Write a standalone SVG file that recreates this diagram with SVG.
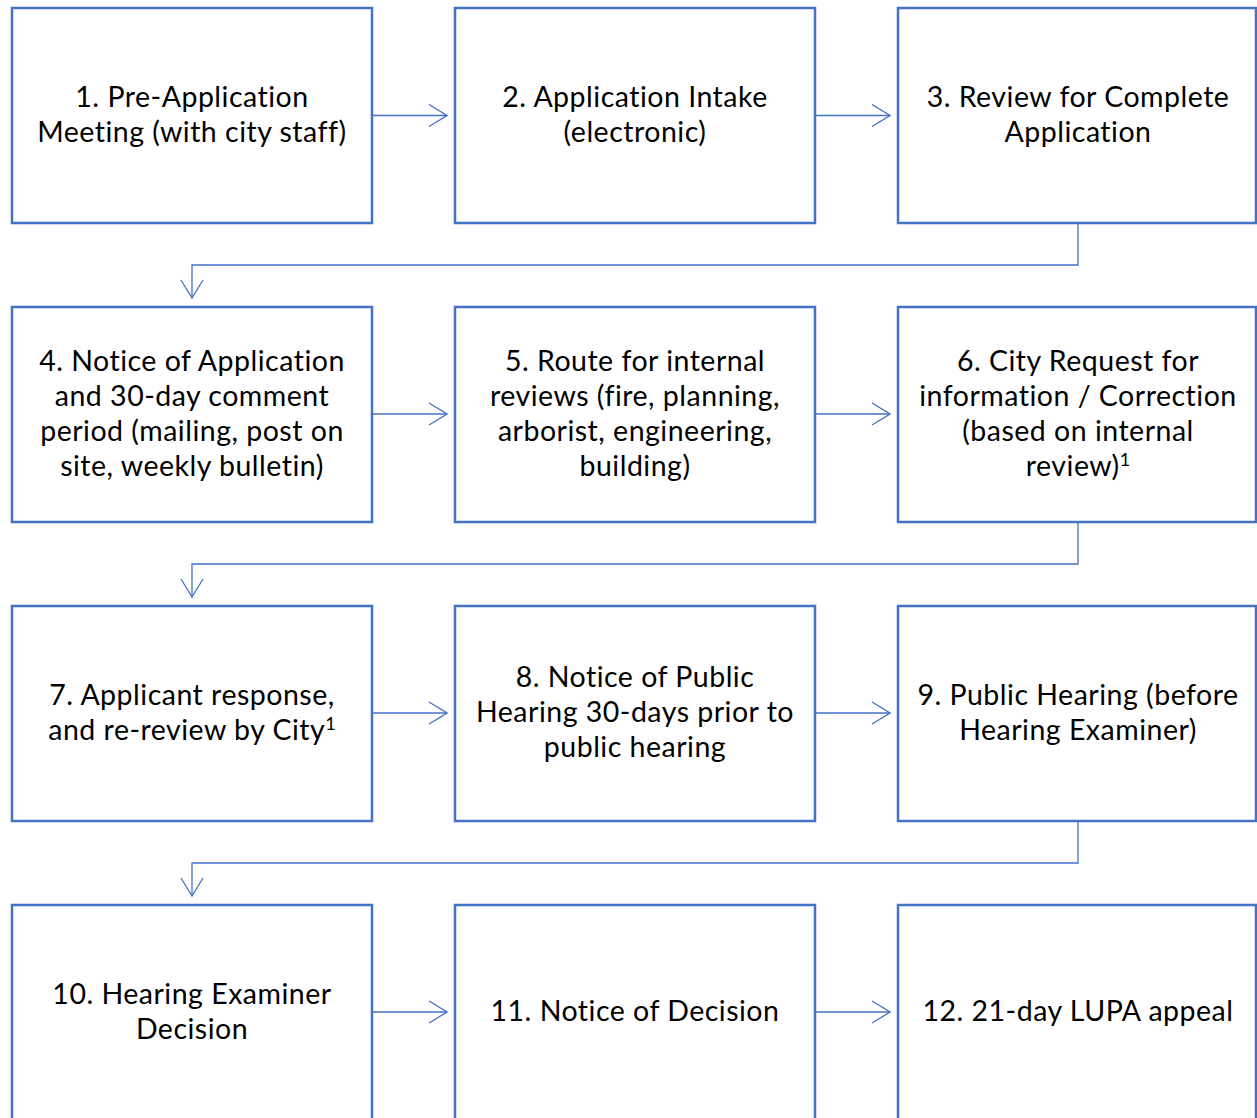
<svg xmlns="http://www.w3.org/2000/svg" width="1257" height="1118" viewBox="0 0 1257 1118">
<style>
.box{fill:#fff;stroke:#4472C4;stroke-width:2.5}
.t{font-family:Lato,"Liberation Sans",sans-serif;font-size:28.5px;letter-spacing:0.5px;fill:#000;text-anchor:middle}
.sup{font-size:18px;letter-spacing:0}
.c{fill:none;stroke:#4472C4;stroke-width:1.3}
</style>
<defs>
<marker id="ah" viewBox="0 0 20 24" refX="19" refY="12" markerWidth="20" markerHeight="24" markerUnits="userSpaceOnUse" orient="auto">
<path d="M1,1 L19,12 L1,23" fill="none" stroke="#4472C4" stroke-width="1.3"/>
</marker>
</defs>
<rect width="1257" height="1118" fill="#fff"/>
<g id="connectors">
<line class="c" x1="372" y1="115.5" x2="447" y2="115.5" marker-end="url(#ah)"/>
<line class="c" x1="815" y1="115.5" x2="890" y2="115.5" marker-end="url(#ah)"/>
<polyline class="c" points="1078,223 1078,265 192,265 192,298" marker-end="url(#ah)"/>
<line class="c" x1="372" y1="414" x2="447" y2="414" marker-end="url(#ah)"/>
<line class="c" x1="815" y1="414" x2="890" y2="414" marker-end="url(#ah)"/>
<polyline class="c" points="1078,522 1078,564 192,564 192,597" marker-end="url(#ah)"/>
<line class="c" x1="372" y1="713" x2="447" y2="713" marker-end="url(#ah)"/>
<line class="c" x1="815" y1="713" x2="890" y2="713" marker-end="url(#ah)"/>
<polyline class="c" points="1078,821 1078,863 192,863 192,896" marker-end="url(#ah)"/>
<line class="c" x1="372" y1="1012" x2="447" y2="1012" marker-end="url(#ah)"/>
<line class="c" x1="815" y1="1012" x2="890" y2="1012" marker-end="url(#ah)"/>
</g>
<g id="n1"><rect class="box" x="12" y="8" width="360" height="215"/>
<text class="t" x="192" y="106.5">1. Pre-Application</text><text class="t" x="192" y="141.5">Meeting (with city staff)</text></g>
<g id="n2"><rect class="box" x="455" y="8" width="360" height="215"/>
<text class="t" x="635" y="106.5">2. Application Intake</text><text class="t" x="635" y="141.5">(electronic)</text></g>
<g id="n3"><rect class="box" x="898" y="8" width="358" height="215"/>
<text class="t" x="1078" y="106.5">3. Review for Complete</text><text class="t" x="1078" y="141.5">Application</text></g>
<g id="n4"><rect class="box" x="12" y="307" width="360" height="215"/>
<text class="t" x="192" y="370.5">4. Notice of Application</text><text class="t" x="192" y="405.5">and 30-day comment</text><text class="t" x="192" y="440.5">period (mailing, post on</text><text class="t" x="192" y="475.5">site, weekly bulletin)</text></g>
<g id="n5"><rect class="box" x="455" y="307" width="360" height="215"/>
<text class="t" x="635" y="370.5">5. Route for internal</text><text class="t" x="635" y="405.5">reviews (fire, planning,</text><text class="t" x="635" y="440.5">arborist, engineering,</text><text class="t" x="635" y="475.5">building)</text></g>
<g id="n6"><rect class="box" x="898" y="307" width="358" height="215"/>
<text class="t" x="1078" y="370.5">6. City Request for</text><text class="t" x="1078" y="405.5">information / Correction</text><text class="t" x="1078" y="440.5">(based on internal</text><text class="t" x="1078" y="475.5">review)<tspan class="sup" dy="-10">1</tspan></text></g>
<g id="n7"><rect class="box" x="12" y="606" width="360" height="215"/>
<text class="t" x="192" y="704.5">7. Applicant response,</text><text class="t" x="192" y="739.5">and re-review by City<tspan class="sup" dy="-10">1</tspan></text></g>
<g id="n8"><rect class="box" x="455" y="606" width="360" height="215"/>
<text class="t" x="635" y="687">8. Notice of Public</text><text class="t" x="635" y="722">Hearing 30-days prior to</text><text class="t" x="635" y="757">public hearing</text></g>
<g id="n9"><rect class="box" x="898" y="606" width="358" height="215"/>
<text class="t" x="1078" y="704.5">9. Public Hearing (before</text><text class="t" x="1078" y="739.5">Hearing Examiner)</text></g>
<g id="n10"><rect class="box" x="12" y="905" width="360" height="215"/>
<text class="t" x="192" y="1003.5">10. Hearing Examiner</text><text class="t" x="192" y="1038.5">Decision</text></g>
<g id="n11"><rect class="box" x="455" y="905" width="360" height="215"/>
<text class="t" x="635" y="1021">11. Notice of Decision</text></g>
<g id="n12"><rect class="box" x="898" y="905" width="358" height="215"/>
<text class="t" x="1078" y="1021">12. 21-day LUPA appeal</text></g>
</svg>
